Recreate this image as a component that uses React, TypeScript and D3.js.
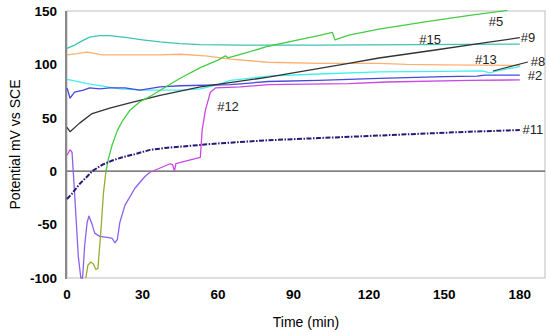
import React, { useEffect, useRef } from 'react';
import * as d3 from 'd3';

type Pt = [number, number];

// time (min), potential (mV vs SCE)
const s15: Pt[] = [[0, 115], [3, 118], [6, 122], [9, 125.5], [13, 127], [17, 127], [24, 125], [30, 123], [37, 121], [45, 119.5], [53, 118.5], [70, 118], [100, 118], [140, 118.5], [180, 119]];
const s13: Pt[] = [[0, 109], [4, 110], [8, 111.5], [14, 109], [22, 109], [37, 109], [45, 109.5], [55, 108], [65, 105], [80, 102], [100, 101], [124, 101], [135, 100], [150, 99.5], [180, 99]];
const s8: Pt[] = [[0, 86], [4, 84], [8, 82], [16, 79], [21, 77], [30, 76], [45, 76], [53, 77], [60, 81], [65, 85], [80, 89], [100, 91], [124, 93], [150, 93.5], [165, 94], [168, 92], [172, 94.5], [180, 98]];
const s2: Pt[] = [[0, 78], [1.2, 68.5], [3, 74], [6.5, 76], [9, 78], [13, 77], [17, 78], [23, 78], [29, 76], [37, 79], [45, 80], [65, 81], [80, 84], [100, 85], [112, 86], [124, 87], [150, 88.5], [163, 89], [166, 90], [180, 90]];
const s9: Pt[] = [[0, 41], [1.2, 37], [5, 45], [10, 54], [17, 59], [25, 64], [37, 71], [53, 79], [80, 88], [112, 101], [124, 106], [145, 113], [165, 120], [180, 125]];
const s12a: Pt[] = [[0, 15], [0.5, 17], [1.2, 20], [2, 18]];
const s12b: Pt[] = [[2, 18], [3, -20], [4.5, -80], [5.5, -100], [6.2, -100], [7, -70], [8, -48], [8.7, -42], [10, -50], [11, -58], [13, -61], [16, -62], [18, -63], [19, -67], [20, -64], [21, -48], [23, -32], [27, -16], [31, -5], [33, -1]];
const s12c: Pt[] = [[33, -1], [37, 3], [41, 7], [42, 6], [42.7, 0], [43.3, 7], [49, 10.5], [53, 13], [53.7, 38], [55, 57], [57, 74], [59, 78], [69, 79], [80, 81], [112, 82], [127, 83.5], [160, 85], [180, 85.5]];
const s11: Pt[] = [[0, -26], [2, -21], [5, -12], [8, -5], [10, 0], [14, 6], [18, 10], [22, 13], [27, 16], [33, 20], [40, 22], [50, 24], [60, 26], [80, 29], [100, 31], [120, 33], [140, 35], [160, 37], [180, 38.5]];
const s5low: Pt[] = [[7.5, -100], [8.3, -88], [9.5, -85], [10.5, -87], [11.5, -92], [12.3, -91], [13.5, -55], [14.5, -20], [15.5, 0]];
const s5: Pt[] = [[15.5, 0], [16.5, 12], [18, 25], [20, 38], [22, 47], [25, 57], [29, 65], [33, 70], [40, 80], [45, 87], [53, 97], [60, 104], [63, 108], [64, 106], [70, 110], [80, 117], [90, 122], [100, 127], [105.5, 130], [106.5, 123], [112, 127.5], [124, 133], [143, 140], [160, 146], [175, 150.5]];

const labels = [
  { text: '#5', t: 170.5, v: 140.6 },
  { text: '#15', t: 144.3, v: 123.6 },
  { text: '#9', t: 183.2, v: 125.4 },
  { text: '#13', t: 166.5, v: 104.9 },
  { text: '#8', t: 187.2, v: 103 },
  { text: '#2', t: 186, v: 89.9 },
  { text: '#11', t: 185.2, v: 39.5 },
  { text: '#12', t: 64, v: 61 },
];
const leader8: Pt[] = [[169.3, 93.8], [183.2, 102.2]];

const yTicks = [150, 100, 50, 0, -50, -100];
const xTicks = [0, 30, 60, 90, 120, 150, 180];

const App = () => {
  const ref = useRef<SVGSVGElement>(null);

  useEffect(() => {
    const svg = d3.select(ref.current);
    svg.selectAll('*').remove();

    const x = d3.scaleLinear().domain([0, 190]).range([67, 545]);
    const y = d3.scaleLinear().domain([-100, 150]).range([278, 11]);
    const font = 'Arial, "Liberation Sans", sans-serif';

    svg.append('defs').append('clipPath').attr('id', 'plot')
      .append('rect').attr('x', 66).attr('y', 10).attr('width', 480).attr('height', 269);

    // frame
    svg.append('rect')
      .attr('x', x(0)).attr('y', y(150))
      .attr('width', x(190) - x(0)).attr('height', y(-100) - y(150))
      .attr('fill', 'white').attr('stroke', '#c8c8c8').attr('stroke-width', 1.2);
    svg.append('line')
      .attr('x1', x(0) - 1).attr('x2', x(0) - 1).attr('y1', y(150)).attr('y2', y(-100) + 1)
      .attr('stroke', '#8a8a8a').attr('stroke-width', 2);
    svg.append('line')
      .attr('x1', x(0)).attr('x2', x(190)).attr('y1', y(0)).attr('y2', y(0))
      .attr('stroke', '#555').attr('stroke-width', 1.2);

    // tick labels
    svg.append('g').selectAll('text').data(yTicks).enter().append('text')
      .attr('x', 57).attr('y', d => y(d)).attr('dy', '0.35em')
      .attr('text-anchor', 'end')
      .style('font-family', font).style('font-size', '13.5px').style('font-weight', 'bold')
      .text(d => d);
    svg.append('g').selectAll('text').data(xTicks).enter().append('text')
      .attr('x', d => x(d)).attr('y', 294).attr('dy', '0.35em')
      .attr('text-anchor', 'middle')
      .style('font-family', font).style('font-size', '13.5px').style('font-weight', 'bold')
      .text(d => d);

    // axis titles
    svg.append('text')
      .attr('x', 306).attr('y', 322).attr('dy', '0.35em')
      .attr('text-anchor', 'middle')
      .style('font-family', font).style('font-size', '14px')
      .text('Time (min)');
    svg.append('text')
      .attr('transform', `translate(15,${(y(150) + y(-100)) / 2}) rotate(-90)`)
      .attr('dy', '0.35em')
      .attr('text-anchor', 'middle')
      .style('font-family', font).style('font-size', '14px')
      .text('Potential mV vs SCE');

    const line = d3.line<Pt>().x(d => x(d[0])).y(d => y(d[1]));
    const g = svg.append('g').attr('clip-path', 'url(#plot)');

    const series: { data: Pt[]; color: string; width?: number; dash?: string }[] = [
      { data: s15, color: '#3cc4b4' },
      { data: s13, color: '#ffb070' },
      { data: s8, color: '#40f0f0' },
      { data: s2, color: '#4848dc' },
      { data: s9, color: '#333333' },
      { data: s12a, color: '#cc44dd' },
      { data: s12b, color: '#8a62ee' },
      { data: s12c, color: '#c84ae0' },
      { data: s5low, color: '#9aab33' },
      { data: s5, color: '#44cc44' },
      { data: s11, color: '#2a1878', width: 2, dash: '5,1.5,1.5,1.5' },
    ];
    series.forEach(s => {
      g.append('path')
        .attr('d', line(s.data) || '')
        .attr('fill', 'none')
        .attr('stroke', s.color)
        .attr('stroke-width', s.width || 1.3)
        .attr('stroke-dasharray', s.dash || null)
        .attr('stroke-linejoin', 'round');
    });

    svg.append('path')
      .attr('d', line(leader8) || '')
      .attr('stroke', '#333').attr('stroke-width', 1.1).attr('fill', 'none');

    svg.append('g').selectAll('text').data(labels).enter().append('text')
      .attr('x', d => x(d.t)).attr('y', d => y(d.v)).attr('dy', '0.35em')
      .attr('text-anchor', 'middle')
      .style('font-family', font).style('font-size', '13px').style('fill', '#222')
      .text(d => d.text);
  }, []);

  return (
    <svg ref={ref} width={550} height={333}
      style={{ position: 'absolute', left: 0, top: 0, background: 'white' }} />
  );
};

export default App;
